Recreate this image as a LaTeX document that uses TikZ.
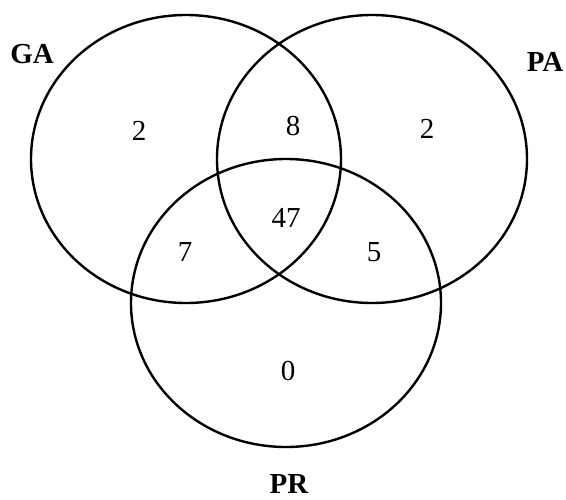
\documentclass[tikz,border=0pt]{standalone}
\usepackage{fontspec}
\setmainfont{Liberation Serif}
\newcommand{\vennfont}{\fontsize{14.5}{17}\selectfont}
\begin{document}
\begin{tikzpicture}[x=0.5pt,y=0.5pt,
  every node/.style={font=\vennfont},
  setline/.style={line width=1.2pt},
  setname/.style={font=\vennfont\bfseries}]
\useasboundingbox (0,0) rectangle (566,499);
% The three sets: {name, centre x, centre y}
\foreach \name/\cx/\cy in {GA/186/340, PA/372/340, PR/286/196} {
  \draw[setline] (\cx,\cy) ellipse [x radius=155, y radius=144];
}
% Set labels
\node[setname] (labGA) at (32,445) {GA};
\node[setname] (labPA) at (545,437) {PA};
\node[setname] (labPR) at (289,15) {PR};
% Region counts
\foreach \val/\x/\y [count=\i] in {
  2/139/368,
  8/293/373,
  2/427/370,
  47/286/281,
  7/185/247,
  5/374/247,
  0/288/128%
} {
  \node (n\i) at (\x,\y) {\val};
}
\end{tikzpicture}
\end{document}
